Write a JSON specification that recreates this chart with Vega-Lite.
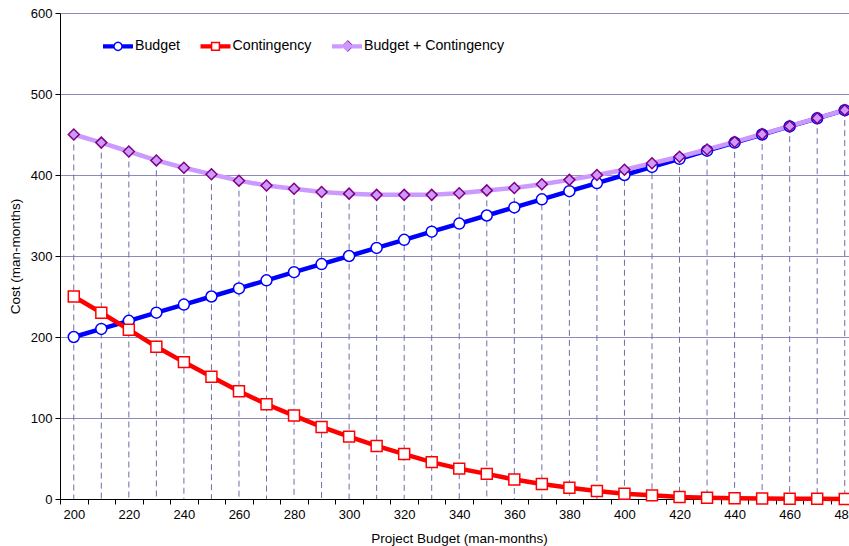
{
  "$schema": "https://vega.github.io/schema/vega-lite/v6.json",
  "width": 789,
  "height": 486,
  "autosize": {"type": "none"},
  "padding": {"left": 60, "top": 13, "right": 0, "bottom": 47},
  "background": "white",
  "config": {
    "font": "Liberation Sans",
    "view": {"stroke": null},
    "axis": {"labelColor": "#000", "titleColor": "#000", "domainColor": "#000", "tickColor": "#000", "labelFont": "Liberation Sans", "titleFont": "Liberation Sans"},
    "legend": {"labelFont": "Liberation Sans", "labelColor": "#000", "labelFontSize": 14.2}
  },
  "datasets": {
    "long": [
      {"x": 200, "series": "Budget", "value": 200},
      {"x": 210, "series": "Budget", "value": 210},
      {"x": 220, "series": "Budget", "value": 220},
      {"x": 230, "series": "Budget", "value": 230},
      {"x": 240, "series": "Budget", "value": 240},
      {"x": 250, "series": "Budget", "value": 250},
      {"x": 260, "series": "Budget", "value": 260},
      {"x": 270, "series": "Budget", "value": 270},
      {"x": 280, "series": "Budget", "value": 280},
      {"x": 290, "series": "Budget", "value": 290},
      {"x": 300, "series": "Budget", "value": 300},
      {"x": 310, "series": "Budget", "value": 310},
      {"x": 320, "series": "Budget", "value": 320},
      {"x": 330, "series": "Budget", "value": 330},
      {"x": 340, "series": "Budget", "value": 340},
      {"x": 350, "series": "Budget", "value": 350},
      {"x": 360, "series": "Budget", "value": 360},
      {"x": 370, "series": "Budget", "value": 370},
      {"x": 380, "series": "Budget", "value": 380},
      {"x": 390, "series": "Budget", "value": 390},
      {"x": 400, "series": "Budget", "value": 400},
      {"x": 410, "series": "Budget", "value": 410},
      {"x": 420, "series": "Budget", "value": 420},
      {"x": 430, "series": "Budget", "value": 430},
      {"x": 440, "series": "Budget", "value": 440},
      {"x": 450, "series": "Budget", "value": 450},
      {"x": 460, "series": "Budget", "value": 460},
      {"x": 470, "series": "Budget", "value": 470},
      {"x": 480, "series": "Budget", "value": 480},
      {"x": 200, "series": "Contingency", "value": 250},
      {"x": 210, "series": "Contingency", "value": 230},
      {"x": 220, "series": "Contingency", "value": 209},
      {"x": 230, "series": "Contingency", "value": 188},
      {"x": 240, "series": "Contingency", "value": 169},
      {"x": 250, "series": "Contingency", "value": 151},
      {"x": 260, "series": "Contingency", "value": 133},
      {"x": 270, "series": "Contingency", "value": 117},
      {"x": 280, "series": "Contingency", "value": 103},
      {"x": 290, "series": "Contingency", "value": 89},
      {"x": 300, "series": "Contingency", "value": 77},
      {"x": 310, "series": "Contingency", "value": 65.5},
      {"x": 320, "series": "Contingency", "value": 55.5},
      {"x": 330, "series": "Contingency", "value": 45.5},
      {"x": 340, "series": "Contingency", "value": 37.5},
      {"x": 350, "series": "Contingency", "value": 31},
      {"x": 360, "series": "Contingency", "value": 24},
      {"x": 370, "series": "Contingency", "value": 18.5},
      {"x": 380, "series": "Contingency", "value": 14},
      {"x": 390, "series": "Contingency", "value": 10},
      {"x": 400, "series": "Contingency", "value": 6.5},
      {"x": 410, "series": "Contingency", "value": 4.5},
      {"x": 420, "series": "Contingency", "value": 2.5},
      {"x": 430, "series": "Contingency", "value": 1.5},
      {"x": 440, "series": "Contingency", "value": 0.8},
      {"x": 450, "series": "Contingency", "value": 0.5},
      {"x": 460, "series": "Contingency", "value": 0.3},
      {"x": 470, "series": "Contingency", "value": 0.2},
      {"x": 480, "series": "Contingency", "value": 0.1},
      {"x": 200, "series": "Budget + Contingency", "value": 450},
      {"x": 210, "series": "Budget + Contingency", "value": 440},
      {"x": 220, "series": "Budget + Contingency", "value": 429},
      {"x": 230, "series": "Budget + Contingency", "value": 418},
      {"x": 240, "series": "Budget + Contingency", "value": 409},
      {"x": 250, "series": "Budget + Contingency", "value": 401},
      {"x": 260, "series": "Budget + Contingency", "value": 393},
      {"x": 270, "series": "Budget + Contingency", "value": 387},
      {"x": 280, "series": "Budget + Contingency", "value": 383},
      {"x": 290, "series": "Budget + Contingency", "value": 379},
      {"x": 300, "series": "Budget + Contingency", "value": 377},
      {"x": 310, "series": "Budget + Contingency", "value": 375.5},
      {"x": 320, "series": "Budget + Contingency", "value": 375.5},
      {"x": 330, "series": "Budget + Contingency", "value": 375.5},
      {"x": 340, "series": "Budget + Contingency", "value": 377.5},
      {"x": 350, "series": "Budget + Contingency", "value": 381},
      {"x": 360, "series": "Budget + Contingency", "value": 384},
      {"x": 370, "series": "Budget + Contingency", "value": 388.5},
      {"x": 380, "series": "Budget + Contingency", "value": 394},
      {"x": 390, "series": "Budget + Contingency", "value": 400},
      {"x": 400, "series": "Budget + Contingency", "value": 406.5},
      {"x": 410, "series": "Budget + Contingency", "value": 414.5},
      {"x": 420, "series": "Budget + Contingency", "value": 422.5},
      {"x": 430, "series": "Budget + Contingency", "value": 431.5},
      {"x": 440, "series": "Budget + Contingency", "value": 440.8},
      {"x": 450, "series": "Budget + Contingency", "value": 450.5},
      {"x": 460, "series": "Budget + Contingency", "value": 460.3},
      {"x": 470, "series": "Budget + Contingency", "value": 470.2},
      {"x": 480, "series": "Budget + Contingency", "value": 480.1}
    ]
  },
  "data": {"name": "long"},
  "encoding": {
    "x": {
      "field": "x",
      "type": "quantitative",
      "scale": {"domain": [195, 481.55], "nice": false, "zero": false},
      "axis": {
        "values": [200, 210, 220, 230, 240, 250, 260, 270, 280, 290, 300, 310, 320, 330, 340, 350, 360, 370, 380, 390, 400, 410, 420, 430, 440, 450, 460, 470, 480],
        "labelExpr": "datum.value % 20 === 0 ? datum.label : ''",
        "tickOffset": -13.77,
        "labelOffset": 13.77,
        "tickSize": 5,
        "grid": false,
        "labelOverlap": false,
        "labelFlush": false,
        "labelFontSize": 13,
        "labelPadding": 4,
        "title": "Project Budget (man-months)",
        "titleFontSize": 13.5,
        "titleFontWeight": "normal",
        "titleX": 399,
        "titlePadding": 10
      }
    },
    "y": {
      "field": "value",
      "type": "quantitative",
      "scale": {"domain": [0, 600], "nice": false},
      "axis": {
        "values": [0, 100, 200, 300, 400, 500, 600],
        "grid": true,
        "gridColor": "#8C8CBA",
        "gridWidth": 1,
        "tickSize": 5,
        "labelFontSize": 13,
        "labelPadding": 3,
        "title": "Cost (man-months)",
        "titleFontSize": 13.5,
        "titleFontWeight": "normal",
        "titlePadding": 8
      }
    }
  },
  "layer": [
    {
      "transform": [{"filter": "datum.series === 'Budget + Contingency'"}],
      "mark": {"type": "rule", "color": "#6E6EA8", "strokeDash": [6, 4], "strokeWidth": 1},
      "encoding": {"y2": {"datum": 0}}
    },
    {
      "mark": {"type": "line", "strokeWidth": 4.5},
      "encoding": {
        "color": {
          "field": "series",
          "type": "nominal",
          "scale": {"domain": ["Budget", "Contingency", "Budget + Contingency"], "range": ["#0000FF", "#FF0000", "#CC99FF"]},
          "legend": {
            "orient": "none",
            "legendX": 43,
            "legendY": 18,
            "direction": "horizontal",
            "title": null,
            "symbolSize": 900,
            "symbolStrokeWidth": 0,
            "labelOffset": 2,
            "columnPadding": 20.5,
            "encode": {
              "symbols": {
                "update": {
                  "shape": {"signal": "datum.value === 'Budget' ? 'M-1,-0.14L-0.3,-0.14L-0.3,0.14L-1,0.14Z M0.3,-0.14L1,-0.14L1,0.14L0.3,0.14Z M0.32,0L0.296,0.122L0.226,0.226L0.122,0.296L0,0.32L-0.122,0.296L-0.226,0.226L-0.296,0.122L-0.32,0L-0.296,-0.122L-0.226,-0.226L-0.122,-0.296L0,-0.32L0.122,-0.296L0.226,-0.226L0.296,-0.122Z M0.22,0L0.203,-0.084L0.156,-0.156L0.084,-0.203L0,-0.22L-0.084,-0.203L-0.156,-0.156L-0.203,-0.084L-0.22,0L-0.203,0.084L-0.156,0.156L-0.084,0.203L0,0.22L0.084,0.203L0.156,0.156L0.203,0.084Z' : datum.value === 'Contingency' ? 'M-1,-0.14L-0.3,-0.14L-0.3,0.14L-1,0.14Z M0.3,-0.14L1,-0.14L1,0.14L0.3,0.14Z M-0.31,-0.31L0.31,-0.31L0.31,0.31L-0.31,0.31Z M-0.21,-0.21L-0.21,0.21L0.21,0.21L0.21,-0.21Z' : 'M-1,-0.14L-0.3,-0.14L-0.3,0.14L-1,0.14Z M0.3,-0.14L1,-0.14L1,0.14L0.3,0.14Z M0,-0.36L0.36,0L0,0.36L-0.36,0Z'"},
                  "fill": {"signal": "datum.value === 'Budget' ? '#0000FF' : datum.value === 'Contingency' ? '#FF0000' : '#CC99FF'"},
                  "stroke": {"value": "transparent"},
                  "strokeWidth": {"value": 0},
                  "opacity": {"value": 1}
                }
              }
            }
          }
        }
      }
    },
    {
      "mark": {"type": "point", "size": 120, "strokeWidth": 1.5, "opacity": 1},
      "encoding": {
        "shape": {
          "field": "series",
          "type": "nominal",
          "scale": {"domain": ["Budget", "Contingency", "Budget + Contingency"], "range": ["circle", "square", "diamond"]},
          "legend": {
            "orient": "none",
            "legendX": 281.8,
            "legendY": 27,
            "direction": "horizontal",
            "title": null,
            "values": ["Budget + Contingency"],
            "labelExpr": "''",
            "labelFontSize": 10,
            "symbolSize": 117,
            "symbolStrokeWidth": 1,
            "symbolOpacity": 1,
            "encode": {
              "symbols": {
                "update": {
                  "fill": {"value": "#CC99FF"},
                  "stroke": {"value": "#800080"},
                  "strokeWidth": {"value": 1},
                  "opacity": {"value": 1}
                }
              }
            }
          }
        },
        "fill": {
          "field": "series",
          "type": "nominal",
          "legend": null,
          "scale": {"domain": ["Budget", "Contingency", "Budget + Contingency"], "range": ["#FFFFFF", "#FFFFFF", "#CC99FF"]}
        },
        "stroke": {
          "field": "series",
          "type": "nominal",
          "legend": null,
          "scale": {"domain": ["Budget", "Contingency", "Budget + Contingency"], "range": ["#0000FF", "#FF0000", "#800080"]}
        }
      }
    }
  ],
  "resolve": {"legend": {"color": "independent"}}
}
